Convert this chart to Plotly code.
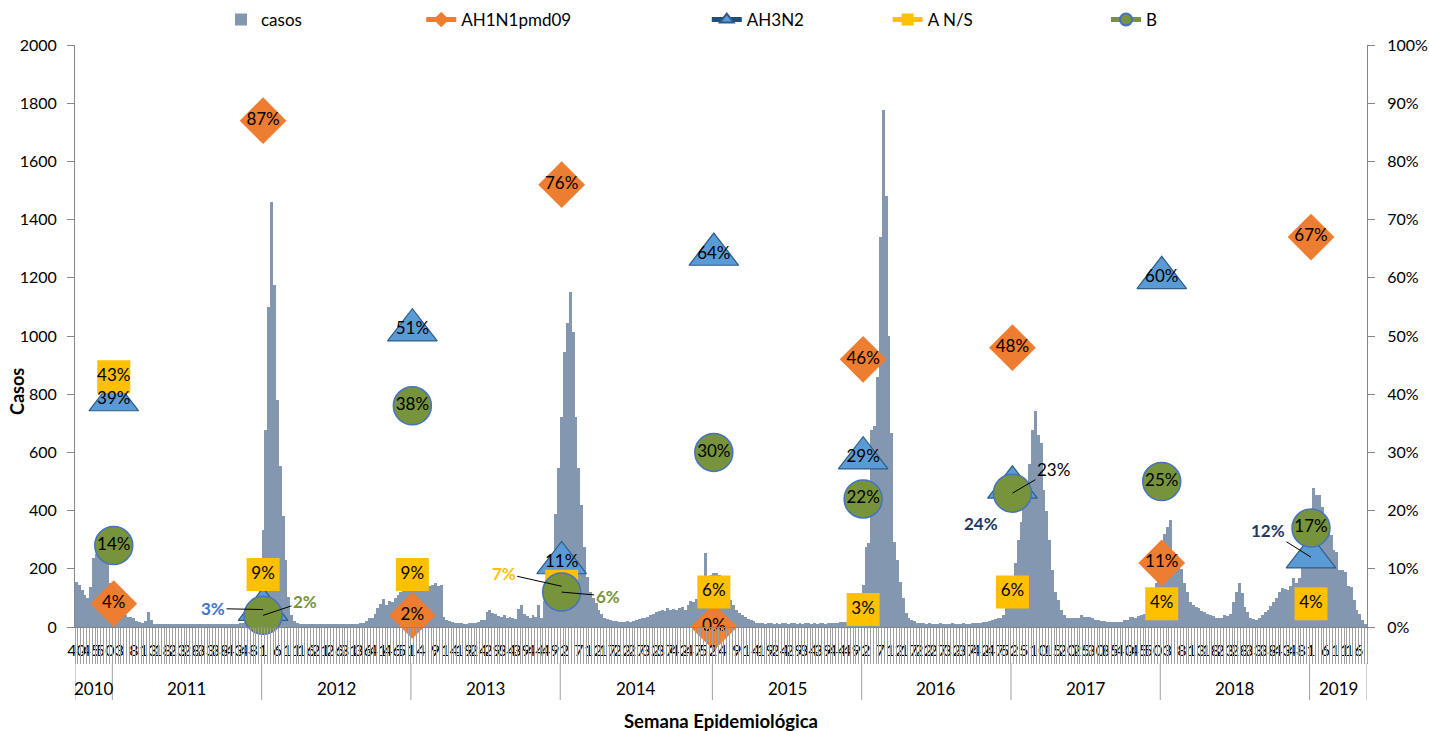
import plotly.graph_objects as go

FONT = "Lato"

# ---------------- data ----------------
years = [2010, 2011, 2012, 2013, 2014, 2015, 2016, 2017, 2018, 2019]
first_week = [40, 1, 1, 1, 1, 1, 1, 1, 1, 1]

casos_2010 = [155, 144, 127, 110, 100, 137, 237, 250, 262, 258, 250, 216, 150]
casos_2011 = [120, 90, 65, 50, 40, 35, 34, 30, 22, 18, 15, 20, 50, 25,
              12, 11, 12, 10, 11, 12, 10, 11, 12, 11, 10, 12, 11, 10, 11, 12,
              10, 11, 12, 11, 10, 11, 12, 11, 10, 12, 11, 10, 11, 12, 13,
              15, 18, 22, 30, 45, 80, 150]
casos_2012 = [333, 677, 1100, 1460, 1175, 780, 553, 381, 230, 103, 41, 20,
              14, 12, 11, 10, 11, 12, 10, 11, 10, 12, 11, 10, 11, 12, 10, 11,
              10, 12, 11, 10, 12, 11, 13,
              15, 20, 30, 32, 45, 65, 80, 95, 75, 90, 85, 100, 110, 120, 130, 140, 135]
casos_2013 = [140, 145, 150, 140, 145, 150, 140, 145, 150, 140, 145,
              34, 25, 20, 17, 15, 14, 13, 12, 12, 13, 14, 15, 18,
              24, 25, 50, 58, 48, 45, 38, 35, 40, 30, 35, 32, 28, 62, 76, 45,
              38, 30, 40, 35, 76, 30, 90, 120, 160, 230, 390, 546]
casos_2014 = [722, 945, 1044, 1150, 1013, 722, 546, 420, 275, 172, 120, 100, 82, 58, 45, 30,
              28, 25, 22, 20, 18, 17, 18, 20, 18, 22, 25, 28, 30, 32,
              35, 40, 45, 50, 55, 60, 55, 65, 60, 62, 58, 65, 70, 60, 75, 90, 85, 95, 100, 120,
              255, 175, 180]
casos_2015 = [185, 185, 180, 172, 140, 105, 93, 75, 60, 48, 40, 34, 26, 24, 22,
              15, 14, 13, 12, 13, 14, 12, 13, 12, 14, 13, 12, 13, 14, 12, 13, 12, 13,
              14, 12, 13, 12, 14, 13, 12, 13, 14, 15, 14, 16,
              16, 18, 20, 22, 25, 35, 70]
casos_2016 = [144, 275, 290, 677, 690, 860, 1340, 1775, 1480, 1000, 666, 292, 230, 155, 100,
              48, 30, 24, 20,
              15, 14, 13, 12, 13, 12, 11, 12, 13, 12, 11, 12, 13, 12, 11, 12, 13, 12,
              12, 13, 14,
              14, 15, 16, 18, 20, 24, 28, 31, 31, 40, 80, 140]
casos_2017 = [172, 220, 300, 361, 436, 464, 560, 677, 743, 660, 632, 470, 400, 300, 196,
              120, 93, 58, 41,
              31, 30, 30, 32, 31, 41, 34, 35, 33, 30, 24, 25, 22, 20, 17, 16, 17, 18,
              17, 16, 24, 24, 34, 35, 30, 38, 40,
              45, 60, 80, 110, 150, 160]
casos_2018 = [290, 320, 345, 367, 258, 250, 220, 200, 151, 120, 86, 75, 69, 65, 55,
              52, 45, 41, 38, 31, 30, 31, 41, 38, 45, 86, 120, 151, 117, 70,
              52, 31, 28, 24, 31, 40, 52, 60, 72, 85, 100, 120, 134, 130, 127,
              140, 168, 150, 170, 210, 260, 330]
casos_2019 = [400, 477, 453, 455, 412, 367, 340, 316, 264, 258, 196, 196, 190, 140,
              137, 93, 60, 45, 24, 12]

casos_by_year = [casos_2010, casos_2011, casos_2012, casos_2013, casos_2014,
                 casos_2015, casos_2016, casos_2017, casos_2018, casos_2019]

# season percentages (placed at week 1 of each year)
season_years = [2011, 2012, 2013, 2014, 2015, 2016, 2017, 2018, 2019]
pct_AH1N1 = [4, 87, 2, 76, 0, 46, 48, 11, 67]
pct_AH3N2 = [39, 3, 51, 11, 64, 29, 24, 60, 12]
pct_ANS = [43, 9, 9, 7, 6, 3, 6, 4, 4]
pct_B = [14, 2, 38, 6, 30, 22, 23, 25, 17]

# ---------------- build category sequence ----------------
week_of = []
year_of = []
casos = []
year_start = {}
for yr, w0, vals in zip(years, first_week, casos_by_year):
    year_start[yr] = len(casos)
    for k, v in enumerate(vals):
        week_of.append(w0 + k)
        year_of.append(yr)
        casos.append(v)
n = len(casos)
idx = list(range(n))
season_x = [year_start[y] for y in season_years]

fig = go.Figure()

fig.add_trace(go.Bar(
    x=idx, y=casos, name="casos", marker=dict(color="#8497B0", line=dict(width=0)),
    xaxis="x", yaxis="y", legend="legend", hoverinfo="skip"))

series = [
    ("AH1N1pmd09", pct_AH1N1, dict(symbol="diamond", size=36, color="#ED7D31", line=dict(width=0)), "#ED7D31", "legend2"),
    ("AH3N2", pct_AH3N2, dict(symbol="triangle-up", size=43, color="#5B9BD5", line=dict(width=1.2, color="#2E5C8A")), "#1F4E79", "legend3"),
    ("A N/S", pct_ANS, dict(symbol="square", size=33, color="#FFC000", line=dict(width=0)), "#FFC000", "legend4"),
    ("B", pct_B, dict(symbol="circle", size=38, color="#77933C", line=dict(width=1.5, color="#4472C4")), "#77933C", "legend5"),
]

for name, vals, mk, lcol, lg in series:
    yy = [None] * n
    for sx, v in zip(season_x, vals):
        yy[sx] = v / 100
    fig.add_trace(go.Scatter(
        x=idx, y=yy, name=name, mode="lines+markers", connectgaps=False,
        marker=mk, line=dict(color=lcol, width=3), cliponaxis=False,
        xaxis="x2", yaxis="y2", legend=lg, hoverinfo="skip"))

LBL = 17
# labels placed away from their markers (offset px, colour, bold, leader line)
special = {
    ("AH3N2", 2012): dict(ax=-50, ay=-1, color="#4472C4", bold=True, arrow=True),
    ("B", 2012): dict(ax=42, ay=-14, color="#77933C", bold=True, arrow=True),
    ("A N/S", 2014): dict(ax=-58, ay=-13, color="#FFC000", bold=True, arrow=True),
    ("B", 2014): dict(ax=46, ay=4, color="#77933C", bold=True, arrow=True),
    ("B", 2017): dict(ax=41, ay=-24, color="#000000", bold=False, arrow=True),
    ("AH3N2", 2017): dict(ax=-31, ay=36, color="#1F3864", bold=True, arrow=False),
    ("AH3N2", 2019): dict(ax=-43, ay=-27, color="#1F3864", bold=True, arrow=True),
}

annotations = []
for name, vals, mk, lcol, lg in series:
    tx, ty, tt = [], [], []
    for sx, sy, v in zip(season_x, season_years, vals):
        key = (name, sy)
        label = f"{v}%"
        if key in special:
            s = special[key]
            txt = f"<b>{label}</b>" if s["bold"] else label
            if s["arrow"]:
                annotations.append(dict(
                    x=sx, y=v / 100, xref="x2", yref="y2", text=txt, showarrow=True,
                    ax=s["ax"], ay=s["ay"], arrowhead=0, arrowwidth=1, arrowcolor="#000000",
                    standoff=0, startstandoff=0,
                    font=dict(family=FONT, size=LBL, color=s["color"])))
            else:
                annotations.append(dict(
                    x=sx, y=v / 100, xref="x2", yref="y2", text=txt, showarrow=False,
                    xshift=s["ax"], yshift=-s["ay"],
                    font=dict(family=FONT, size=LBL, color=s["color"])))
        else:
            tx.append(sx)
            ty.append(v / 100)
            tt.append(label)
    fig.add_trace(go.Scatter(
        x=tx, y=ty, text=tt, mode="text", textposition="middle center",
        textfont=dict(family=FONT, size=LBL, color="#000000"), showlegend=False,
        cliponaxis=False, xaxis="x2", yaxis="y2", hoverinfo="skip"))

# ---------------- axes ----------------
label_vals = [i for i in idx if i % 5 == 0]
label_text = [str(week_of[i]) for i in label_vals]
xr = [-0.5, n - 0.5]
AX = "#868686"

fig.update_layout(
    width=1429, height=731,
    margin=dict(l=75, r=62, t=45, b=104, autoexpand=False),
    paper_bgcolor="white", plot_bgcolor="white",
    font=dict(family=FONT, size=16, color="#000000"),
    bargap=0,
    xaxis=dict(range=xr, tickmode="array", tickvals=label_vals, ticktext=label_text,
               tickangle=0, ticks="outside", ticklen=9, tickcolor="rgba(0,0,0,0)",
               showline=True, linecolor=AX, linewidth=1, showgrid=False, zeroline=False,
               automargin=False,
               tickfont=dict(family=FONT, size=16, color="#000000")),
    xaxis2=dict(range=xr, overlaying="x", anchor="y2", side="bottom",
                tickmode="linear", tick0=-0.5, dtick=1, ticks="outside", ticklen=36,
                tickcolor="#A0A0A0", tickwidth=1, showticklabels=False, automargin=False,
                showline=False, showgrid=False, zeroline=False),
    yaxis=dict(range=[0, 2000], dtick=200, ticks="outside", ticklen=7, tickcolor=AX,
               showline=True, linecolor=AX, linewidth=1, showgrid=False, zeroline=False,
               automargin=False,
               tickfont=dict(family=FONT, size=16, color="#000000"), ticklabelstandoff=7),
    yaxis2=dict(range=[0, 1], dtick=0.1, tickformat=".0%", overlaying="y", side="right",
                anchor="x2", ticks="outside", ticklen=7, tickcolor=AX, automargin=False,
                showline=True, linecolor=AX, linewidth=1, showgrid=False, zeroline=False,
                tickfont=dict(family=FONT, size=16, color="#000000"), ticklabelstandoff=9),
)

# legends (one per entry to mimic spacing)
leg_x = [0.113, 0.268, 0.489, 0.629, 0.798]
for k, lx in enumerate(leg_x):
    key = "legend" if k == 0 else f"legend{k + 1}"
    fig.update_layout(**{key: dict(x=lx, y=1.043, xanchor="left", yanchor="middle",
                                   orientation="h", bgcolor="rgba(0,0,0,0)", borderwidth=0,
                                   itemsizing="constant",
                                   font=dict(family=FONT, size=17, color="#000000"))})

# year separators and labels
plot_h = 731 - 45 - 104
def ypaper(py):
    return (731 - 104 - py) / plot_h

shapes = []
bounds = [year_start[y] - 0.5 for y in years] + [n - 0.5]
for b in bounds:
    shapes.append(dict(type="line", xref="x", yref="paper", x0=b, x1=b,
                       y0=ypaper(663), y1=ypaper(700), line=dict(color="#A0A0A0", width=1)))
for y in years:
    s = year_start[y]
    e = s + len(casos_by_year[years.index(y)]) - 1
    annotations.append(dict(x=(s + e) / 2, y=ypaper(688), xref="x", yref="paper",
                            text=str(y), showarrow=False, yanchor="middle",
                            font=dict(family=FONT, size=17, color="#000000")))

annotations.append(dict(x=0.5, y=ypaper(721), xref="paper", yref="paper",
                        text="<b>Semana Epidemiológica</b>", showarrow=False, yanchor="middle",
                        font=dict(family=FONT, size=18.5, color="#000000")))
annotations.append(dict(x=(17 - 75) / 1292, y=ypaper(392), xref="paper", yref="paper",
                        text="<b>Casos</b>", showarrow=False, textangle=-90,
                        xanchor="center", yanchor="middle",
                        font=dict(family=FONT, size=18, color="#000000")))

fig.update_layout(shapes=shapes, annotations=annotations)

fig.write_html("out.html", config={"displayModeBar": False},
               post_script="document.body.style.margin='0';document.body.style.overflow='hidden';")
